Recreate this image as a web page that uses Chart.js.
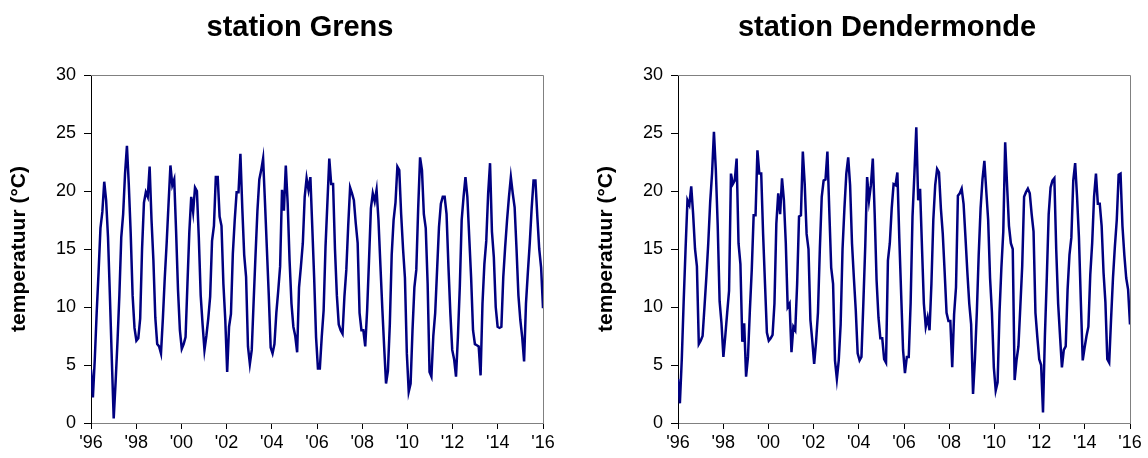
<!DOCTYPE html>
<html><head><meta charset="utf-8">
<script src="https://cdn.jsdelivr.net/npm/chart.js@4.4.1/dist/chart.umd.min.js"></script>
<style>
html,body{margin:0;padding:0;background:#fff;overflow:hidden;width:1148px;height:458px;position:relative;}
.panel{position:absolute;top:0;width:600px;height:458px;}
</style></head><body>
<div class="panel" style="left:0px"><canvas id="c1" width="600" height="458"></canvas></div>
<div class="panel" style="left:587px"><canvas id="c2" width="600" height="458"></canvas></div>
<script>
// ---- data ----
const titles = ['station Grens', 'station Dendermonde'];
const yAxisTitle = 'temperatuur (°C)';
const xTickLabels = ["'96","'98","'00","'02","'04","'06","'08","'10","'12","'14","'16"];
const yTicks = [0, 5, 10, 15, 20, 25, 30];

// monthly mean water temperature, Jan 1996 - Dec 2015
const grens = [
  4.6, 2.2, 5.5, 9.5, 13.0, 16.8, 18.2, 20.8, 19.2, 16.0, 10.9, 5.5,
  0.4, 3.5, 7.0, 11.0, 16.0, 18.0, 21.5, 23.9, 20.5, 16.3, 11.0, 8.2,
  7.1, 7.3, 9.0, 15.0, 19.0, 19.9, 19.5, 22.1, 17.5, 14.0, 9.1, 6.8,
  6.6, 6.0, 9.0, 12.5, 15.5, 18.9, 22.2, 20.5, 21.0, 16.5, 11.5, 8.0,
  6.4, 6.8, 7.4, 12.0, 16.5, 19.5, 18.2, 20.3, 20.0, 16.0, 11.0, 8.5,
  6.3, 7.5, 9.0, 10.9, 15.7, 17.0, 21.2, 21.2, 17.8, 17.0, 12.0, 8.9,
  4.4, 8.3, 9.4, 14.6, 17.5, 19.9, 19.9, 23.2, 18.5, 14.5, 12.6, 6.6,
  5.1, 6.3, 10.5, 14.5, 18.3, 21.0, 21.8, 22.8, 19.0, 15.0, 11.0, 6.5,
  6.0, 6.8, 9.5, 11.4, 13.5, 20.1, 18.3, 22.2, 18.9, 14.0, 10.3, 8.3,
  7.5, 6.1, 11.7, 13.5, 15.5, 19.5, 21.1, 20.1, 21.2, 16.9, 12.5, 7.4,
  4.7, 4.7, 7.4, 9.7, 15.2, 19.0, 22.8, 20.6, 20.6, 15.0, 11.0, 8.5,
  8.0, 7.7, 10.9, 13.2, 17.0, 20.3, 19.8, 19.2, 17.2, 15.5, 9.5, 8.0,
  8.0, 6.6, 9.7, 14.0, 18.5, 19.8, 19.1, 20.1, 17.5, 13.7, 10.0, 6.6,
  3.4, 4.5, 8.5, 14.5, 17.5, 19.0, 22.1, 21.8, 18.0, 15.0, 12.5, 6.0,
  2.7, 3.4, 8.0, 11.7, 13.2, 18.5, 22.9, 21.8, 18.0, 16.8, 12.0, 4.4,
  4.0, 7.5, 9.5, 13.2, 16.9, 18.9, 19.5, 19.5, 18.0, 13.5, 9.5, 6.3,
  5.5, 4.0, 7.4, 11.7, 17.5, 19.5, 21.2, 19.5, 16.0, 12.5, 8.0, 6.8,
  6.7, 6.6, 4.1, 10.3, 13.7, 15.7, 19.8, 22.4, 16.5, 14.3, 10.0, 8.3,
  8.2, 8.3, 12.6, 15.2, 17.5, 19.5, 21.2, 19.8, 18.6, 15.0, 11.0, 8.9,
  7.4, 5.3, 10.3, 13.0, 15.5, 18.5, 20.9, 20.9, 17.8, 15.0, 13.4, 9.9
];
const dendermonde = [
  3.8, 1.7, 5.5, 10.5, 15.0, 19.2, 18.8, 20.4, 18.0, 15.0, 13.5, 6.8,
  7.1, 7.5, 10.0, 12.6, 15.5, 19.0, 21.5, 25.1, 21.8, 17.0, 10.5, 8.6,
  5.7, 7.5, 9.5, 11.4, 21.5, 20.6, 20.9, 22.8, 15.5, 13.7, 7.0, 8.6,
  4.0, 5.7, 9.7, 13.2, 17.9, 17.9, 23.5, 21.5, 21.5, 16.3, 12.0, 7.8,
  7.1, 7.3, 7.6, 10.3, 17.2, 19.8, 18.0, 21.1, 19.2, 15.5, 10.0, 10.3,
  6.1, 8.3, 8.0, 12.0, 17.8, 17.9, 23.4, 20.6, 16.3, 15.0, 8.9, 7.1,
  5.1, 7.0, 9.5, 15.0, 19.5, 20.9, 21.0, 23.4, 18.3, 13.4, 12.0, 5.4,
  3.8, 5.4, 8.5, 15.0, 18.5, 21.5, 22.9, 20.5, 15.5, 12.5, 9.7, 6.0,
  5.4, 5.7, 10.3, 15.2, 21.2, 19.2, 20.5, 22.8, 18.0, 12.3, 9.1, 7.3,
  7.3, 5.5, 5.2, 14.0, 15.5, 18.5, 20.6, 20.5, 21.6, 16.0, 11.1, 6.3,
  4.3, 5.7, 5.7, 10.3, 17.8, 21.5, 25.5, 19.2, 20.2, 15.2, 10.3, 8.3,
  9.1, 8.0, 12.0, 17.5, 20.5, 21.9, 21.6, 18.5, 16.3, 13.0, 9.5, 8.8,
  8.8, 4.8, 9.4, 11.7, 19.6, 19.8, 20.2, 18.9, 16.0, 13.0, 10.3, 8.5,
  2.5, 5.5, 9.5, 14.5, 18.5, 21.0, 22.6, 20.0, 17.5, 12.5, 9.5, 4.8,
  2.8, 3.5, 9.5, 13.4, 16.5, 24.2, 20.5, 17.0, 15.5, 15.0, 3.7, 5.4,
  6.6, 10.0, 13.5, 19.5, 19.9, 20.2, 19.8, 18.0, 16.5, 9.5, 7.4, 5.5,
  5.0, 0.9, 7.5, 12.5, 18.0, 20.3, 20.9, 21.1, 14.9, 10.3, 7.5, 4.8,
  6.3, 6.6, 11.5, 14.5, 16.0, 20.9, 22.4, 19.5, 16.0, 10.5, 5.4, 6.5,
  7.5, 8.3, 12.8, 15.5, 19.5, 21.5, 18.9, 18.9, 17.0, 13.0, 10.4, 5.5,
  5.2, 9.0, 12.5, 15.2, 17.5, 21.4, 21.5, 17.0, 14.5, 12.5, 11.5, 8.5
];

// ---- chart ----
const FONT = 'Arial, "Liberation Sans", sans-serif';

const framePlugin = {
  id: 'frame',
  afterDraw(chart) {
    const a = chart.chartArea, ctx = chart.ctx;
    ctx.save();
    ctx.strokeStyle = '#808080';
    ctx.lineWidth = 1;
    ctx.beginPath();
    ctx.moveTo(Math.round(a.left), Math.round(a.top) + 0.5);
    ctx.lineTo(Math.round(a.right) + 0.5, Math.round(a.top) + 0.5);
    ctx.lineTo(Math.round(a.right) + 0.5, Math.round(a.bottom));
    ctx.stroke();
    ctx.restore();
  }
};

function makeChart(id, title, values) {
  const points = values.map((v, i) => ({ x: i, y: v }));
  const last = values.length - 1;
  return new Chart(document.getElementById(id), {
    type: 'line',
    data: { datasets: [{
      data: points, borderColor: '#000080', borderWidth: 2.5,
      pointRadius: 0, tension: 0, fill: false
    }]},
    options: {
      responsive: false, animation: false, devicePixelRatio: 1,
      layout: { padding: 0 },
      plugins: {
        legend: { display: false }, tooltip: { enabled: false },
        title: {
          display: true, text: title, color: '#000',
          font: { family: FONT, size: 29, weight: 'bold', lineHeight: 1.2 },
          padding: { top: 11, bottom: 29.2 }
        }
      },
      scales: {
        x: {
          type: 'linear', min: 0, max: last,
          afterBuildTicks: s => {
            s.ticks = xTickLabels.map((t, k) => ({ value: k * last / (xTickLabels.length - 1) }));
          },
          ticks: {
            callback: (v, idx) => xTickLabels[idx], color: '#000',
            font: { family: FONT, size: 18 }, padding: 3,
            maxRotation: 0, autoSkip: false
          },
          grid: { drawOnChartArea: false, tickLength: 6, color: '#000' },
          border: { color: '#808080', width: 1 },
          afterFit: s => { s.height = 35; }
        },
        y: {
          min: 0, max: 30,
          afterBuildTicks: s => { s.ticks = yTicks.map(v => ({ value: v })); },
          ticks: { color: '#000', font: { family: FONT, size: 18 }, padding: 8 },
          grid: { drawOnChartArea: false, tickLength: 7, color: '#000' },
          border: { color: '#000', width: 1 },
          title: {
            display: true, text: yAxisTitle, color: '#000',
            font: { family: FONT, size: 21, weight: 'bold', lineHeight: 1.2 },
            padding: { top: 7, bottom: 0 }
          },
          afterFit: s => { s.width = 91; }
        },
        spacer: {
          position: 'right', min: 0, max: 30,
          ticks: { display: false }, grid: { display: false },
          border: { display: false },
          afterFit: s => { s.width = 57; }
        }
      }
    },
    plugins: [framePlugin]
  });
}

makeChart('c1', titles[0], grens);
makeChart('c2', titles[1], dendermonde);
</script>
</body></html>
